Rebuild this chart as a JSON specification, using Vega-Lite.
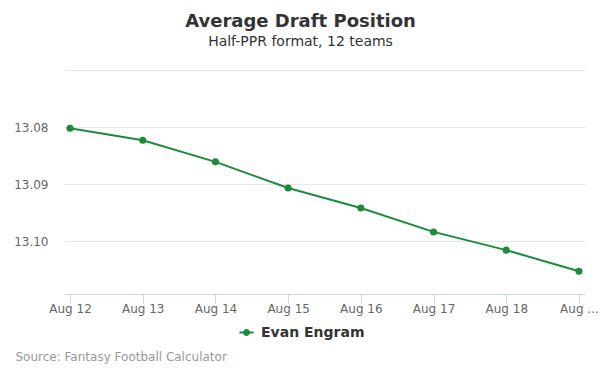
{
  "$schema": "https://vega.github.io/schema/vega-lite/v6.json",
  "width": 521,
  "height": 225,
  "padding": {"left": 64, "top": 69, "right": 15, "bottom": 81},
  "autosize": {"type": "none"},
  "background": "#ffffff",
  "title": {
    "text": "Average Draft Position",
    "subtitle": "Half-PPR format, 12 teams",
    "anchor": "middle",
    "frame": "group",
    "dx": -24,
    "offset": 20,
    "font": "DejaVu Sans",
    "fontSize": 18,
    "fontWeight": "bold",
    "color": "#333333",
    "subtitleFont": "DejaVu Sans",
    "subtitleFontSize": 14,
    "subtitleColor": "#333333",
    "subtitlePadding": 4
  },
  "data": {
    "values": [
      {"date": "Aug 12", "adp": 13.0802, "player": "Evan Engram"},
      {"date": "Aug 13", "adp": 13.0823, "player": "Evan Engram"},
      {"date": "Aug 14", "adp": 13.0861, "player": "Evan Engram"},
      {"date": "Aug 15", "adp": 13.0907, "player": "Evan Engram"},
      {"date": "Aug 16", "adp": 13.0942, "player": "Evan Engram"},
      {"date": "Aug 17", "adp": 13.0984, "player": "Evan Engram"},
      {"date": "Aug 18", "adp": 13.1016, "player": "Evan Engram"},
      {"date": "Aug 19", "adp": 13.1053, "player": "Evan Engram"}
    ]
  },
  "encoding": {
    "x": {
      "field": "date",
      "type": "ordinal",
      "sort": null,
      "scale": {"type": "point", "padding": 0.083},
      "axis": {
        "title": "Source: Fantasy Football Calculator",
        "titleAnchor": "start",
        "titleAlign": "left",
        "titleBaseline": "middle",
        "titleX": -49,
        "titleY": 62,
        "titleFont": "DejaVu Sans",
        "titleFontSize": 12,
        "titleFontWeight": "normal",
        "titleColor": "#999999",
        "labelAngle": 0,
        "labelFont": "DejaVu Sans",
        "labelFontSize": 12,
        "labelColor": "#666666",
        "labelPadding": 0,
        "labelExpr": "datum.value == 'Aug 19' ? 'Aug ...' : datum.label",
        "domainColor": "#ccd6eb",
        "tickColor": "#ccd6eb",
        "tickSize": 9,
        "grid": false
      }
    },
    "y": {
      "field": "adp",
      "type": "quantitative",
      "scale": {"domain": [13.0698, 13.1093], "reverse": true, "nice": false, "zero": false},
      "axis": {
        "title": null,
        "values": [13.07, 13.08, 13.09, 13.10],
        "labelExpr": "datum.value < 13.075 ? '' : format(datum.value, '.2f')",
        "labelFont": "DejaVu Sans",
        "labelFontSize": 12,
        "labelColor": "#666666",
        "labelPadding": 16,
        "domain": false,
        "ticks": false,
        "gridColor": "#e6e6e6"
      }
    },
    "color": {
      "field": "player",
      "type": "nominal",
      "scale": {"range": ["#1c8c3c"]},
      "legend": {
        "title": null,
        "orient": "none",
        "legendX": 174,
        "legendY": 255,
        "symbolType": "M -1 0 L 1 0 M -0.35 0 A 0.35 0.35 0 1 0 0.35 0 A 0.35 0.35 0 1 0 -0.35 0 Z",
        "symbolSize": 200,
        "symbolStrokeWidth": 2,
        "symbolFillColor": "#1c8c3c",
        "symbolStrokeColor": "#1c8c3c",
        "labelFont": "DejaVu Sans",
        "labelFontSize": 14,
        "labelFontWeight": "bold",
        "labelColor": "#333333",
        "labelOffset": 6
      }
    }
  },
  "layer": [
    {"mark": {"type": "line", "strokeWidth": 2}},
    {"mark": {"type": "point", "filled": true, "opacity": 1, "size": 50}}
  ],
  "config": {
    "view": {"stroke": null}
  }
}
